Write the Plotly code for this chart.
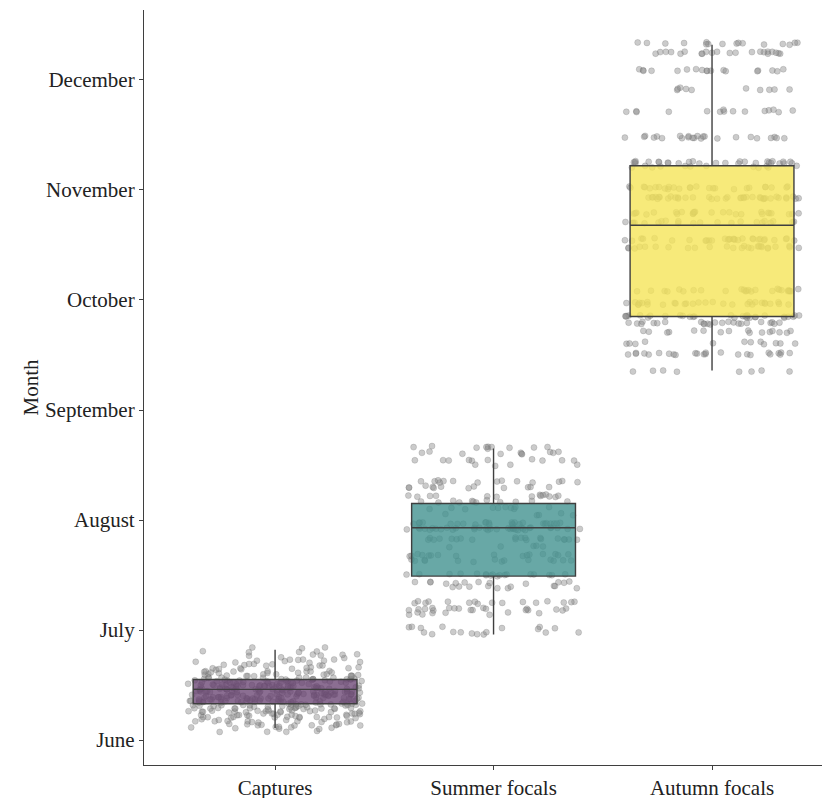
import math
import plotly.graph_objects as go

# ---- data (month units: June = 6 ... December = 12) ----
categories = ["Captures", "Summer focals", "Autumn focals"]
month_ticks = [6, 7, 8, 9, 10, 11, 12]
month_labels = ["June", "July", "August", "September", "October", "November", "December"]

# box statistics
q1 = [6.33, 7.49, 9.85]
median = [6.46, 7.93, 10.68]
q3 = [6.55, 8.15, 11.22]
lowerfence = [6.11, 6.96, 9.36]
upperfence = [6.82, 8.65, 12.32]

# individual observations: value and number of points at that value
captures_vals = [6.08, 6.11, 6.14, 6.17, 6.20, 6.23, 6.26, 6.29, 6.32, 6.35, 6.38, 6.41, 6.44,
                 6.47, 6.50, 6.53, 6.56, 6.59, 6.62, 6.65, 6.68, 6.71, 6.74, 6.77, 6.80, 6.83]
captures_cnt = [4, 8, 10, 12, 14, 16, 18, 20, 22, 24, 26, 26, 26,
                26, 24, 22, 18, 14, 12, 10, 8, 7, 6, 5, 4, 3]

summer_vals = [6.97, 7.02, 7.15, 7.19, 7.25, 7.39, 7.43, 7.50, 7.63, 7.68, 7.76, 7.83,
               7.92, 7.97, 8.05, 8.11, 8.17, 8.22, 8.30, 8.35, 8.50, 8.55, 8.61, 8.66]
summer_cnt = [10, 8, 8, 18, 16, 10, 12, 18, 14, 16, 5, 20,
              35, 25, 5, 10, 12, 14, 12, 14, 4, 10, 10, 10]

autumn_vals = [9.36, 9.51, 9.61, 9.71, 9.79, 9.85, 9.97, 10.09, 10.48, 10.55, 10.71,
               10.79, 10.93, 11.02, 11.21, 11.25, 11.48, 11.72, 11.92, 12.09, 12.25, 12.33]
autumn_cnt = [8, 24, 12, 16, 24, 30, 30, 26, 26, 30, 22,
              26, 38, 26, 12, 28, 24, 15, 10, 18, 22, 16]

fills = ["rgba(102,64,112,0.76)", "rgba(66,146,144,0.8)", "rgba(245,229,89,0.8)"]

FONT = "Liberation Serif"
TEXT = "#222222"
LINE = "#3f3f3f"


def hash01(n):
    """deterministic scatter in [0, 1) used only for horizontal jitter placement"""
    v = math.sin(n * 12.9898 + 78.233) * 43758.5453
    return v - math.floor(v)


fig = go.Figure()

# jittered points (drawn on base axes, below the boxes)
groups = [(captures_vals, captures_cnt), (summer_vals, summer_cnt), (autumn_vals, autumn_cnt)]
for gi, (vals, cnts) in enumerate(groups):
    xs, ys = [], []
    k = 0
    for v, c in zip(vals, cnts):
        for _ in range(c):
            n = gi * 1000 + k
            xs.append(gi + (hash01(n) - 0.5) * 0.8)
            ys.append(v + (hash01(n + 0.5) - 0.5) * 0.025)
            k += 1
    fig.add_trace(go.Scatter(
        x=xs, y=ys, mode="markers", showlegend=False, hoverinfo="skip",
        marker=dict(size=6, color="rgba(140,140,140,0.45)",
                    line=dict(width=0.6, color="rgba(90,90,90,0.35)")),
        xaxis="x", yaxis="y"))

# boxes on overlay axes so they sit above the points
for gi in range(3):
    fig.add_trace(go.Box(
        x=[gi], q1=[q1[gi]], median=[median[gi]], q3=[q3[gi]],
        lowerfence=[lowerfence[gi]], upperfence=[upperfence[gi]],
        width=0.75, boxpoints=False, fillcolor=fills[gi],
        line=dict(color=LINE, width=1.4), whiskerwidth=0,
        showlegend=False, hoverinfo="skip", xaxis="x2", yaxis="y2"))

xr = [-0.6, 2.54]
yr = [5.773, 12.636]

# page body has an 8px margin, so the figure is sized to fit the window
fig.update_layout(
    width=822, height=790,
    margin=dict(l=136, r=0, t=2, b=33),
    paper_bgcolor="white", plot_bgcolor="white",
    font=dict(family=FONT, size=21, color=TEXT),
    xaxis=dict(range=xr, tickmode="array", tickvals=[0, 1, 2], ticktext=categories,
               showgrid=False, zeroline=False, showline=True, linecolor=LINE, linewidth=1.2,
               ticks="outside", ticklen=4, tickcolor=LINE, tickwidth=1.2, automargin=False,
               tickfont=dict(family=FONT, size=21, color=TEXT)),
    yaxis=dict(range=yr, tickmode="array", tickvals=month_ticks, ticktext=month_labels,
               showgrid=False, zeroline=False, showline=True, linecolor=LINE, linewidth=1.2,
               ticks="outside", ticklen=4, tickcolor=LINE, tickwidth=1.2, automargin=False,
               tickfont=dict(family=FONT, size=21, color=TEXT),
               title=dict(text="Month", font=dict(family=FONT, size=21, color=TEXT), standoff=0)),
    xaxis2=dict(range=xr, overlaying="x", anchor="y2", visible=False, showgrid=False, zeroline=False),
    yaxis2=dict(range=yr, overlaying="y", anchor="x2", visible=False, showgrid=False, zeroline=False),
)

fig.write_html("out.html")
